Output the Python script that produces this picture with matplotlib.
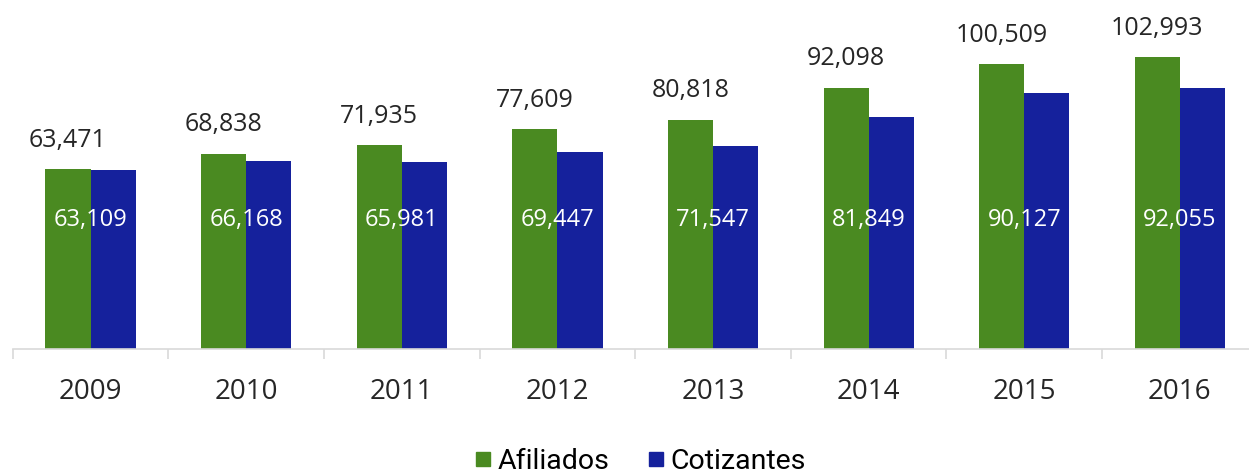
import matplotlib
matplotlib.use("Agg")
import matplotlib.pyplot as plt
from matplotlib.lines import Line2D
import numpy as np

years = ["2009", "2010", "2011", "2012", "2013", "2014", "2015", "2016"]
afiliados = [63471, 68838, 71935, 77609, 80818, 92098, 100509, 102993]
cotizantes = [63109, 66168, 65981, 69447, 71547, 81849, 90127, 92055]

green = "#4a8a21"
blue = "#15219c"

fig = plt.figure(figsize=(12.49, 4.77), dpi=100)
ax = fig.add_axes([12.7/1249, 127/477, 1245/1249, 350/477])
x = np.arange(len(years))
w = 0.29
ax.bar(x - w/2, afiliados, w, color=green, label="Afiliados")
ax.bar(x + w/2, cotizantes, w, color=blue, label="Cotizantes")
ax.set_xlim(-0.5, len(years) - 0.5)
ax.set_ylim(0, 123400)

for xi, v in zip(x, afiliados):
    ax.annotate(f"{v:,}", (xi - w/2, v), xytext=(0, 21.5), textcoords="offset points",
                ha="center", va="center", fontsize=18, family="Open Sans", color="#262626")
for xi, v in zip(x, cotizantes):
    ax.text(xi, 46000, f"{v:,}", ha="center", va="center", fontsize=17,
            family="Open Sans", color="white")

for s in ["top", "left", "right"]:
    ax.spines[s].set_visible(False)
ax.spines["bottom"].set_color("#d9d9d9")
ax.spines["bottom"].set_linewidth(1.2)
ax.set_yticks([])
ax.set_xticks(x)
ax.set_xticklabels(years, fontsize=20, family="Open Sans", color="#262626")
ax.tick_params(axis="x", which="major", length=0, pad=20)
ax.set_xticks(np.arange(-0.5, len(years)), minor=True)
ax.tick_params(axis="x", which="minor", length=7, color="#d9d9d9", width=1.2)

handles = [Line2D([], [], marker="s", linestyle="none", markersize=9.5, color=green),
           Line2D([], [], marker="s", linestyle="none", markersize=9.5, color=blue)]
fig.legend(handles, ["Afiliados", "Cotizantes"], loc="center", bbox_to_anchor=(0.512, 15/477),
           ncol=2, frameon=False, prop={"family": "Roboto", "size": 20.5},
           handletextpad=0.15, columnspacing=1.3, handlelength=0.7,
           borderaxespad=0, borderpad=0)

fig.savefig("out.png", dpi=100)
